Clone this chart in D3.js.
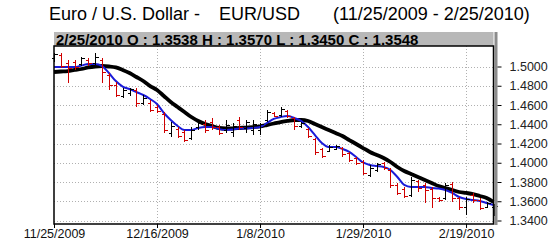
<!DOCTYPE html>
<html>
<head>
<meta charset="utf-8">
<script src="https://cdn.jsdelivr.net/npm/d3@7"></script>
<style>
  body { margin: 0; background: #fff; }
  svg { display: block; font-family: Arial, "Liberation Sans", sans-serif; }
</style>
</head>
<body>
<svg id="chart" width="549" height="241"></svg>
<script>
// daily bars, 11/25/2009 .. 2/25/2010 (index = trading day)
const opens = [1.5085,1.5120,1.5036,1.5047,1.5026,1.5068,1.5036,1.5068,1.4912,1.4808,1.4694,1.4725,1.4756,1.4621,1.4621,1.4579,1.4506,1.4309,1.4350,1.4319,1.4257,1.4371,1.4402,1.4423,1.4371,1.4340,1.4319,1.4444,1.4361,1.4340,1.4340,1.4444,1.4517,1.4496,1.4538,1.4465,1.4382,1.4350,1.4247,1.4143,1.4122,1.4143,1.4153,1.4101,1.4049,1.4007,1.3873,1.3925,1.3997,1.3925,1.3769,1.3727,1.3665,1.3810,1.3769,1.3727,1.3634,1.3634,1.3779,1.3634,1.3540,1.3665,1.3613,1.3540,1.3538];
const highs = [1.5140,1.5140,1.5068,1.5068,1.5099,1.5088,1.5140,1.5088,1.4932,1.4839,1.4777,1.4777,1.4777,1.4704,1.4652,1.4600,1.4527,1.4423,1.4371,1.4340,1.4371,1.4423,1.4444,1.4465,1.4392,1.4444,1.4413,1.4475,1.4444,1.4444,1.4413,1.4548,1.4527,1.4579,1.4548,1.4475,1.4423,1.4361,1.4257,1.4153,1.4184,1.4184,1.4163,1.4111,1.4059,1.4029,1.3976,1.3997,1.4007,1.3945,1.3790,1.3748,1.3852,1.3821,1.3790,1.3748,1.3644,1.3790,1.3800,1.3644,1.3644,1.3686,1.3634,1.3592,1.3570];
const lows = [1.5050,1.4985,1.4829,1.4964,1.5005,1.5005,1.5015,1.4829,1.4756,1.4683,1.4673,1.4694,1.4579,1.4600,1.4527,1.4517,1.4309,1.4267,1.4257,1.4215,1.4236,1.4340,1.4309,1.4340,1.4288,1.4309,1.4267,1.4340,1.4309,1.4288,1.4288,1.4423,1.4475,1.4475,1.4465,1.4340,1.4361,1.4257,1.4080,1.4049,1.4111,1.4132,1.4059,1.4007,1.3976,1.3873,1.3852,1.3904,1.3925,1.3738,1.3665,1.3634,1.3644,1.3696,1.3582,1.3530,1.3592,1.3613,1.3592,1.3509,1.3457,1.3582,1.3509,1.3530,1.3450];
const closes = [1.5130,1.5005,1.4985,1.4995,1.5088,1.5036,1.5099,1.4943,1.4808,1.4704,1.4756,1.4766,1.4621,1.4673,1.4548,1.4538,1.4340,1.4382,1.4278,1.4236,1.4340,1.4413,1.4340,1.4371,1.4309,1.4392,1.4382,1.4371,1.4423,1.4402,1.4402,1.4527,1.4486,1.4558,1.4486,1.4382,1.4413,1.4278,1.4111,1.4070,1.4163,1.4174,1.4091,1.4029,1.3997,1.3894,1.3945,1.3987,1.3945,1.3769,1.3686,1.3655,1.3821,1.3738,1.3717,1.3634,1.3613,1.3769,1.3634,1.3540,1.3623,1.3613,1.3530,1.3582,1.3548];

// moving averages
const maFast = [1.4995,1.4995,1.4995,1.4995,1.5010,1.5026,1.5026,1.5005,1.4932,1.4849,1.4792,1.4766,1.4735,1.4704,1.4662,1.4610,1.4517,1.4444,1.4382,1.4340,1.4340,1.4361,1.4371,1.4371,1.4351,1.4340,1.4345,1.4356,1.4356,1.4361,1.4371,1.4413,1.4455,1.4475,1.4486,1.4465,1.4434,1.4371,1.4288,1.4205,1.4164,1.4164,1.4143,1.4112,1.4060,1.4003,1.3977,1.3966,1.3956,1.3925,1.3852,1.3769,1.3748,1.3748,1.3748,1.3738,1.3732,1.3717,1.3686,1.3644,1.3623,1.3613,1.3603,1.3582,1.3561];
const maSlow = [1.4943,1.4948,1.4953,1.4964,1.4974,1.4990,1.5000,1.5005,1.5000,1.4990,1.4964,1.4932,1.4891,1.4849,1.4797,1.4756,1.4694,1.4631,1.4579,1.4527,1.4475,1.4434,1.4403,1.4382,1.4361,1.4356,1.4356,1.4361,1.4366,1.4371,1.4377,1.4392,1.4408,1.4423,1.4434,1.4444,1.4444,1.4434,1.4403,1.4371,1.4340,1.4309,1.4278,1.4236,1.4195,1.4153,1.4112,1.4081,1.4049,1.4008,1.3956,1.3914,1.3883,1.3852,1.3821,1.3790,1.3758,1.3738,1.3717,1.3696,1.3686,1.3675,1.3655,1.3634,1.3592];

const dateTicks = [0, 15, 30, 45, 60];
const dateLabels = ["11/25/2009", "12/16/2009", "1/8/2010", "1/29/2010", "2/19/2010"];
const priceTicks = [1.34, 1.36, 1.38, 1.40, 1.42, 1.44, 1.46, 1.48, 1.50];

const plotL = 54, plotR = 493.5, plotT = 46, plotB = 224;

const svg = d3.select("#chart");

const x = d3.scaleLinear().domain([0, opens.length - 1]).range([plotL, plotR]);
const y = d3.scaleLinear().domain([1.34, 1.50]).range([220.5, 66.5]);

// title
svg.append("text").attr("x", 49).attr("y", 20).attr("font-size", 18).text("Euro / U.S. Dollar -");
svg.append("text").attr("x", 219).attr("y", 20).attr("font-size", 18).text("EUR/USD");
svg.append("text").attr("x", 333).attr("y", 20).attr("font-size", 18).text("(11/25/2009 - 2/25/2010)");

// info bar
const last = opens.length - 1;
svg.append("rect").attr("x", plotL).attr("y", 32).attr("width", plotR - plotL).attr("height", plotT - 32)
    .attr("fill", "#b8b8b8");
svg.append("text").attr("x", 56).attr("y", 44.5).attr("font-size", 15).attr("font-weight", "bold")
    .text(`2/25/2010 O : ${opens[last].toFixed(4)} H : ${highs[last].toFixed(4)} L : ${lows[last].toFixed(4)} C : ${closes[last].toFixed(4)}`);

// grid
svg.append("g").selectAll("line").data(priceTicks).join("line")
    .attr("x1", plotL).attr("x2", plotR)
    .attr("y1", d => Math.round(y(d)) + 0.5).attr("y2", d => Math.round(y(d)) + 0.5)
    .attr("stroke", "#b0b0b0").attr("stroke-dasharray", "1,2");
svg.append("g").selectAll("line").data(dateTicks.slice(1)).join("line")
    .attr("x1", d => Math.round(x(d)) + 0.5).attr("x2", d => Math.round(x(d)) + 0.5)
    .attr("y1", plotT).attr("y2", plotB)
    .attr("stroke", "#b0b0b0").attr("stroke-dasharray", "1,2");

// moving averages
const line = d3.line().x((d, i) => x(i)).y(d => y(d)).curve(d3.curveMonotoneX);
svg.append("path").attr("d", line(maSlow)).attr("fill", "none")
    .attr("stroke", "#000").attr("stroke-width", 3.8).attr("stroke-linejoin", "round");
svg.append("path").attr("d", line(maFast)).attr("fill", "none")
    .attr("stroke", "#1a1ad8").attr("stroke-width", 2).attr("stroke-linejoin", "round");

// ohlc bars
const px = i => Math.round(x(i)) + 0.5;
const bars = svg.append("g").attr("shape-rendering", "crispEdges")
    .selectAll("g").data(d3.range(opens.length)).join("g")
    .attr("stroke", i => closes[i] < opens[i] ? "#d00000" : "#000");
bars.append("line").attr("x1", px).attr("x2", px)
    .attr("y1", i => y(highs[i])).attr("y2", i => y(lows[i]));
bars.append("line").attr("x1", i => px(i) - 3).attr("x2", px)
    .attr("y1", i => Math.round(y(opens[i])) + 0.5).attr("y2", i => Math.round(y(opens[i])) + 0.5);
bars.append("line").attr("x1", px).attr("x2", i => px(i) + 3)
    .attr("y1", i => Math.round(y(closes[i])) + 0.5).attr("y2", i => Math.round(y(closes[i])) + 0.5);

// frame + shadow
svg.append("rect").attr("x", plotR + 1).attr("y", 32).attr("width", 3).attr("height", plotB - 32 + 1)
    .attr("fill", "#8c8c8c");
svg.append("rect").attr("x", plotL).attr("y", plotT).attr("width", plotR - plotL).attr("height", plotB - plotT)
    .attr("fill", "none").attr("stroke", "#000").attr("stroke-width", 1.5);

// right price axis
const yAxis = svg.append("g").attr("transform", `translate(${plotR + 4},0)`)
    .call(d3.axisRight(y).tickValues(priceTicks).tickFormat(d3.format(".4f")).tickSize(4).tickPadding(8));
yAxis.select(".domain").remove();
yAxis.selectAll("text").attr("font-size", 12.5).attr("fill", "#222").attr("font-family", "Arial, 'Liberation Sans', sans-serif");

// bottom date axis
const xAxis = svg.append("g").attr("transform", `translate(0,${plotB})`)
    .call(d3.axisBottom(x).tickValues(dateTicks).tickFormat((d, i) => dateLabels[i]).tickSize(4).tickPadding(1));
xAxis.select(".domain").remove();
xAxis.selectAll("text").attr("font-size", 12.5).attr("fill", "#111").attr("font-family", "Arial, 'Liberation Sans', sans-serif");
</script>
</body>
</html>
